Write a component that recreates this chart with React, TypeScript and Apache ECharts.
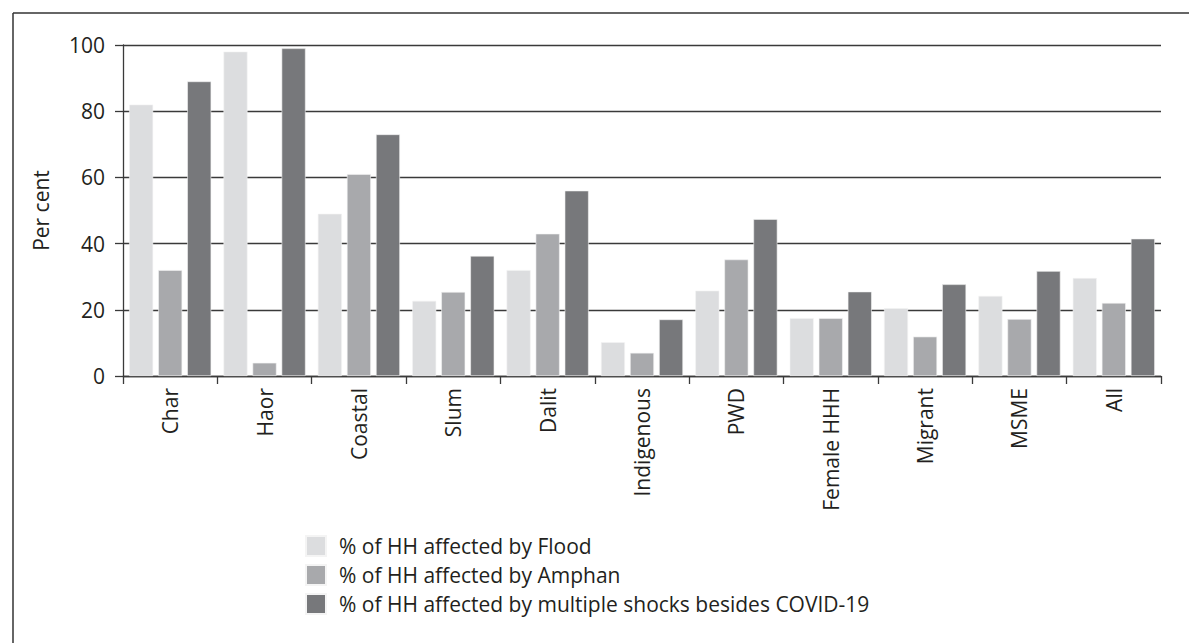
import React, { useEffect, useRef } from "react";
import * as echarts from "echarts";

const categories = ["Char", "Haor", "Coastal", "Slum", "Dalit", "Indigenous", "PWD", "Female HHH", "Migrant", "MSME", "All"];
const floodValues = [82, 98, 49, 22.7, 32, 10.2, 25.8, 17.5, 20.5, 24.2, 29.6];
const amphanValues = [32, 4, 61, 25.4, 43, 7, 35.2, 17.5, 11.9, 17.2, 22.1];
const multiValues = [89, 99, 73, 36.3, 56, 17.1, 47.4, 25.5, 27.7, 31.7, 41.5];
const seriesNames = [
  "% of HH affected by Flood",
  "% of HH affected by Amphan",
  "% of HH affected by multiple shocks besides COVID-19",
];
const seriesColors = ["#dcdddf", "#a8a9ac", "#77787b"];
const yTicks = [0, 20, 40, 60, 80, 100];

const FONT = "Open Sans";
const TEXT = "#231f20";
const FS = 21;

export default function App() {
  const ref = useRef<HTMLDivElement>(null);
  useEffect(() => {
    if (!ref.current) return;
    const chart = echarts.init(ref.current, null, { renderer: "svg" });
    const data = [floodValues, amphanValues, multiValues];
    chart.setOption({
      animation: false,
      backgroundColor: "#ffffff",
      textStyle: { fontFamily: FONT, color: TEXT },
      grid: { left: 123, right: 28, top: 45, bottom: 267, containLabel: false },
      legend: {
        orient: "vertical",
        left: 300,
        top: 530,
        itemWidth: 20,
        itemHeight: 20,
        itemGap: 7,
        icon: "rect",
        textStyle: { fontFamily: FONT, fontSize: FS, color: TEXT, padding: [0, 0, 0, 8] },
        data: seriesNames,
      },
      xAxis: {
        type: "category",
        data: categories,
        axisLine: { lineStyle: { color: "#3a3a3a", width: 1.3 } },
        axisTick: { show: true, length: 8, alignWithLabel: false, lineStyle: { color: "#3a3a3a", width: 1.3 } },
        axisLabel: {
          rotate: 90,
          interval: 0,
          margin: 12,
          fontFamily: FONT,
          fontSize: FS,
          color: TEXT,
        },
      },
      yAxis: {
        type: "value",
        min: yTicks[0],
        max: yTicks[yTicks.length - 1],
        interval: 20,
        name: "Per cent",
        nameLocation: "middle",
        nameGap: 72,
        nameTextStyle: { fontFamily: FONT, fontSize: FS, color: TEXT },
        axisLine: { show: true, lineStyle: { color: "#3a3a3a", width: 1.3 } },
        axisTick: { show: true, length: 8, lineStyle: { color: "#3a3a3a", width: 1.3 } },
        axisLabel: { fontFamily: FONT, fontSize: FS, color: TEXT, margin: 18 },
        splitLine: { show: true, lineStyle: { color: "#3a3a3a", width: 1.3 } },
      },
      series: data.map((d, i) => ({
        name: seriesNames[i],
        type: "bar",
        data: d,
        barGap: "21%",
        barCategoryGap: "13%",
        itemStyle: { color: seriesColors[i], borderColor: "#f4f4f4", borderWidth: 0.6 },
      })),
      graphic: [
        { type: "line", shape: { x1: 13, y1: 13, x2: 1189, y2: 13 }, style: { stroke: "#333", lineWidth: 1.5 } },
        { type: "line", shape: { x1: 13, y1: 13, x2: 13, y2: 643 }, style: { stroke: "#333", lineWidth: 1.5 } },
      ],
    });
    return () => chart.dispose();
  }, []);
  return (
    <div
      ref={ref}
      style={{ position: "absolute", left: 0, top: 0, width: 1189, height: 643 }}
    />
  );
}
